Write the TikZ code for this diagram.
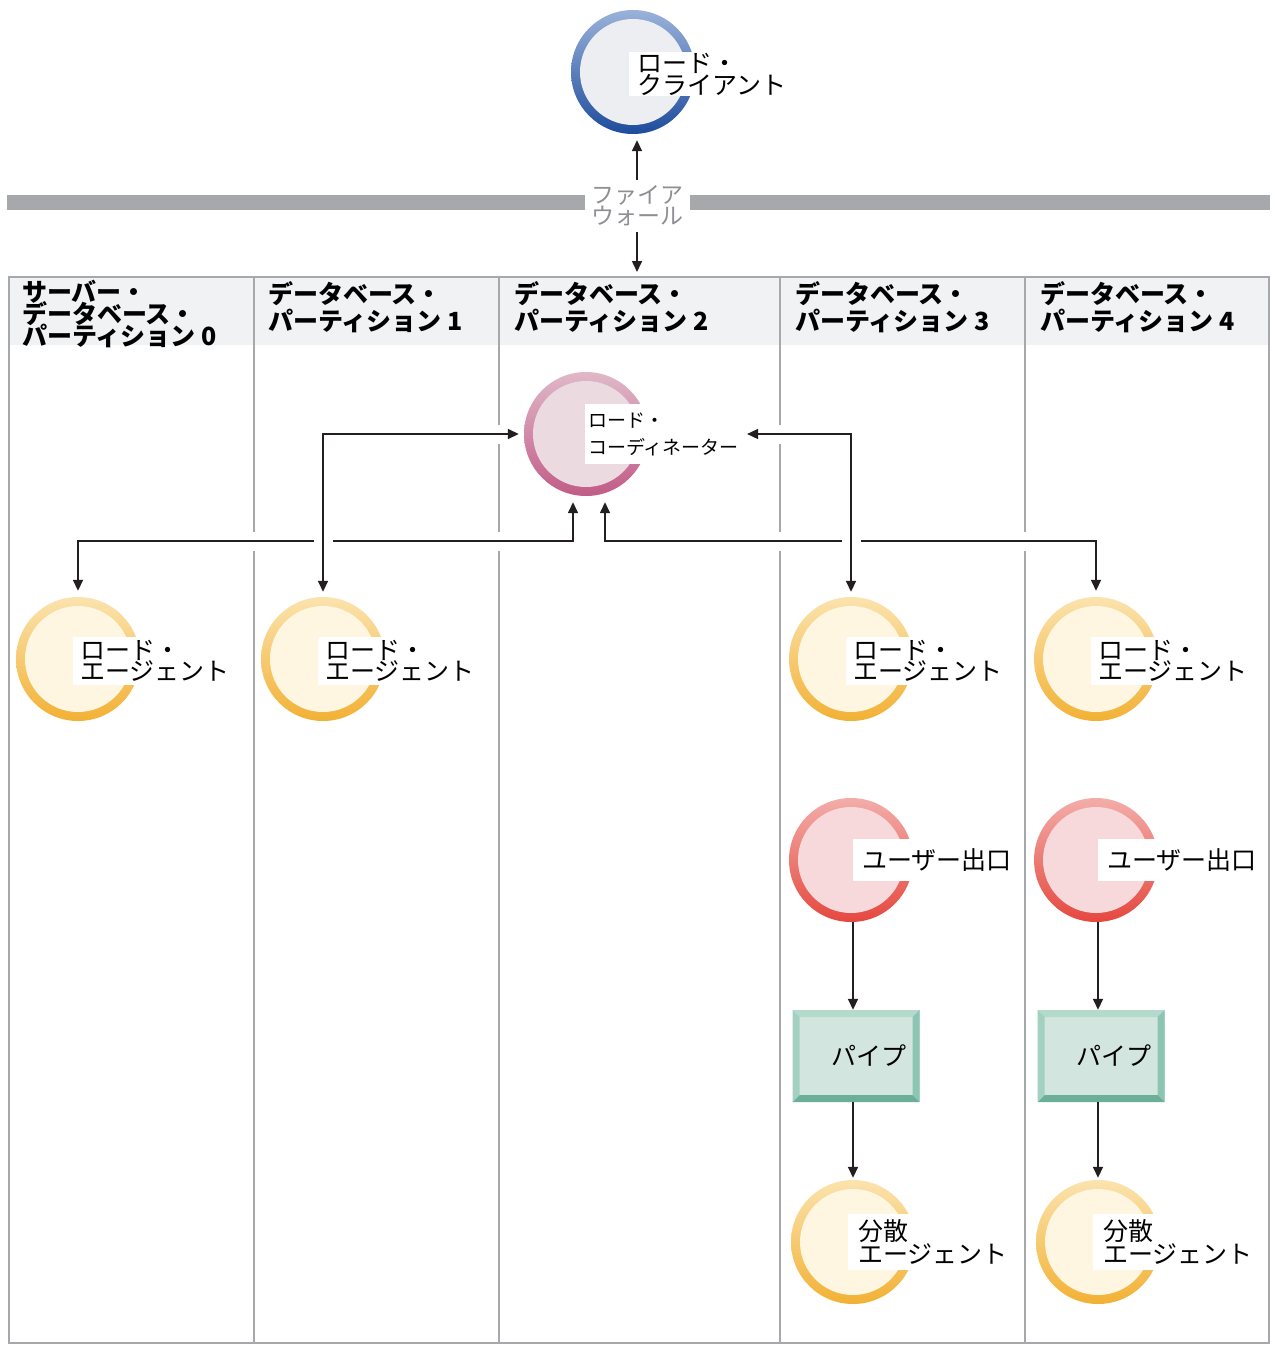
\documentclass[tikz,border=0pt]{standalone}
\usepackage{fontspec}
\newfontfamily\jpfont{Noto Sans CJK JP}
\newcommand\jptight{\lineskiplimit=-50pt\relax}
\usetikzlibrary{arrows.meta,positioning}
\pgfdeclarelayer{bg}
\pgfdeclarelayer{wires}
\pgfsetlayers{bg,wires,main}

\definecolor{wallgray}{HTML}{A7A8AB}
\definecolor{fwtext}{HTML}{8E8F93}
\definecolor{hdrfill}{HTML}{F1F2F4}
\definecolor{inkline}{HTML}{231F20}
\definecolor{cliLite}{HTML}{9AB2DA}
\definecolor{cliDark}{HTML}{1E4C9C}
\definecolor{cliFace}{HTML}{ECEEF1}
\definecolor{crdLite}{HTML}{E0B8C8}
\definecolor{crdDark}{HTML}{C15C87}
\definecolor{crdFace}{HTML}{ECDAE1}
\definecolor{agtLite}{HTML}{FBE3AE}
\definecolor{agtDark}{HTML}{F2B134}
\definecolor{agtFace}{HTML}{FEF6E1}
\definecolor{uexLite}{HTML}{F3ADA9}
\definecolor{uexDark}{HTML}{E5483F}
\definecolor{uexFace}{HTML}{F7D9DC}
\definecolor{pipeFace}{HTML}{D2E5DE}
\definecolor{pipeTop}{HTML}{B4DACC}
\definecolor{pipeLeft}{HTML}{A3D0C0}
\definecolor{pipeRight}{HTML}{8CC6B3}
\definecolor{pipeBot}{HTML}{6BAF98}

\tikzset{
  bubble/.style={circle, minimum size=124pt, inner sep=0pt, shading angle=45},
  bubbleface/.style={path picture={\fill[#1] (path picture bounding box.center) circle (53pt);}},
  clientbub/.style={bubble, top color=cliLite, bottom color=cliDark, bubbleface=cliFace},
  coordbub/.style={bubble, top color=crdLite, bottom color=crdDark, bubbleface=crdFace},
  agentbub/.style={bubble, top color=agtLite, bottom color=agtDark, bubbleface=agtFace},
  exitbub/.style={bubble, top color=uexLite, bottom color=uexDark, bubbleface=uexFace},
  lbl/.style={fill=white, anchor=west, align=left, inner xsep=8pt, inner ysep=3pt,
    font=\jpfont\fontsize{25}{21}\selectfont\jptight},
  hdr/.style={anchor=north west, inner sep=0pt, align=left,
    font=\jpfont\bfseries\fontsize{25}{27}\selectfont\jptight},
  pipebox/.style={minimum width=127pt, minimum height=92pt, inner xsep=13pt, inner ysep=0pt,
    text width=101pt, align=right, fill=pipeFace, font=\jpfont\fontsize{25}{25}\selectfont,
    path picture={
      \coordinate (pa) at (path picture bounding box.north west);
      \coordinate (pb) at (path picture bounding box.north east);
      \coordinate (pc) at (path picture bounding box.south east);
      \coordinate (pd) at (path picture bounding box.south west);
      \fill[pipeTop] (pa) -- (pb) -- ([shift={(-7pt,-7pt)}]pb) -- ([shift={(7pt,-7pt)}]pa) -- cycle;
      \fill[pipeRight] (pb) -- (pc) -- ([shift={(-7pt,7pt)}]pc) -- ([shift={(-7pt,-7pt)}]pb) -- cycle;
      \fill[pipeBot] (pc) -- (pd) -- ([shift={(7pt,7pt)}]pd) -- ([shift={(-7pt,7pt)}]pc) -- cycle;
      \fill[pipeLeft] (pd) -- (pa) -- ([shift={(7pt,-7pt)}]pa) -- ([shift={(7pt,7pt)}]pd) -- cycle;
    }},
  conn/.style={draw=inkline, line width=1.6pt, -{Triangle[length=11pt,width=10pt]}},
  bothconn/.style={conn, {Triangle[length=11pt,width=10pt]}-{Triangle[length=11pt,width=10pt]},
    preaction={draw=white, line width=19pt, arrows=-}},
  sepline/.style={draw=wallgray, line width=2pt},
}

\begin{document}
\begin{tikzpicture}[x=1pt,y=-1pt]

  \useasboundingbox (0,0) rectangle (1274,1346);

  % table and firewall
  \begin{pgfonlayer}{bg}
    \fill[wallgray] (7,195) rectangle (585,210);
    \fill[wallgray] (690,195) rectangle (1270,210);
    \fill[hdrfill] (9,277) rectangle (1269,345);
    \draw[sepline] (9,277) rectangle (1269,1343);
    \foreach \xx in {254,499,780,1025}
    {
      \draw[sepline] (\xx,277) -- (\xx,1343);
    }
  \end{pgfonlayer}

  % column heads
  \node[hdr, font=\jpfont\bfseries\fontsize{25}{22}\selectfont\jptight] (hd0) at (22,280) {サーバー・\\データベース・\\パーティション 0};
  \node[hdr] (hd1) at (268,281) {データベース・\\パーティション 1};
  \node[hdr] (hd2) at (514,281) {データベース・\\パーティション 2};
  \node[hdr] (hd3) at (795,281) {データベース・\\パーティション 3};
  \node[hdr] (hd4) at (1040,281) {データベース・\\パーティション 4};

  % client and firewall
  \node[clientbub] (cli) at (633,72) {};
  \node[lbl, inner ysep=1pt, font=\jpfont\fontsize{25}{22}\selectfont\jptight] (cli-l) at ([xshift=-4pt,yshift=-2pt]cli.center) {ロード・\\クライアント};
  \node[font=\jpfont\fontsize{23}{21}\selectfont, text=fwtext, align=center, inner sep=2pt] (fw) at (637,206) {ファイア\\ウォール};
  \coordinate (tabtop) at (637,277);

  % coordinator
  \node[coordbub] (crd) at (586,434) {};
  \node[lbl, inner xsep=3pt, inner ysep=8pt, font=\jpfont\fontsize{19}{27}\selectfont] (crd-l) at ([xshift=-1pt]crd.center) {ロード・\\コーディネーター};

  % load agents
  \foreach \nm/\xx in {la0/78, la1/323, la3/851, la4/1096}
  {
    \node[agentbub] (\nm) at (\xx,659) {};
    \node[lbl, inner xsep=7pt, yshift=-2pt] (\nm-l) at ([xshift=-5pt]\nm.center) {ロード・\\エージェント};
  }

  % user exit, pipe, distributed agent
  \foreach \nm/\xx in {3/851, 4/1096}
  {
    \node[exitbub] (ue\nm) at (\xx,860) {};
    \node[lbl, inner xsep=9pt, inner ysep=10pt] (ue\nm-l) at ([xshift=2pt]ue\nm.center) {ユーザー出口};
    \node[pipebox] (pp\nm) at (\xx+5,1056) {パイプ};
    \node[agentbub] (da\nm) at (\xx+2,1242) {};
    \node[lbl, inner xsep=10pt, inner ysep=6pt, font=\jpfont\fontsize{25}{23}\selectfont\jptight] (da\nm-l) at ([xshift=-5pt]da\nm.center) {分散\\エージェント};
  }

  % connectors
  \draw[conn, shorten <=4pt, shorten >=6pt] (fw.north) -- (fw.north |- cli.south);
  \draw[conn, shorten <=4pt, shorten >=5pt] (fw.south) -- (tabtop);

  \begin{pgfonlayer}{wires}
    \draw[bothconn, shorten <=6pt, shorten >=6pt] ([xshift=-13pt]crd.south) -- ++(0,45) -| (la0.north);
    \draw[bothconn, shorten <=6pt, shorten >=6pt] ([xshift=19pt]crd.south) -- ++(0,45) -| (la4.north);
    \draw[bothconn, shorten <=5pt, shorten >=5pt] (la1.north) |- (crd.west);
    \draw[bothconn, shorten <=5pt, shorten >=5pt] (la3.north) |- (crd-l.east);
  \end{pgfonlayer}

  \foreach \nm in {3,4}
  {
    \draw[conn] ([xshift=2pt]ue\nm.south) -- ([xshift=2pt]ue\nm.south |- pp\nm.north);
    \draw[conn, shorten >=2pt] (pp\nm.south -| da\nm.north) -- (da\nm.north);
  }

\end{tikzpicture}
\end{document}
